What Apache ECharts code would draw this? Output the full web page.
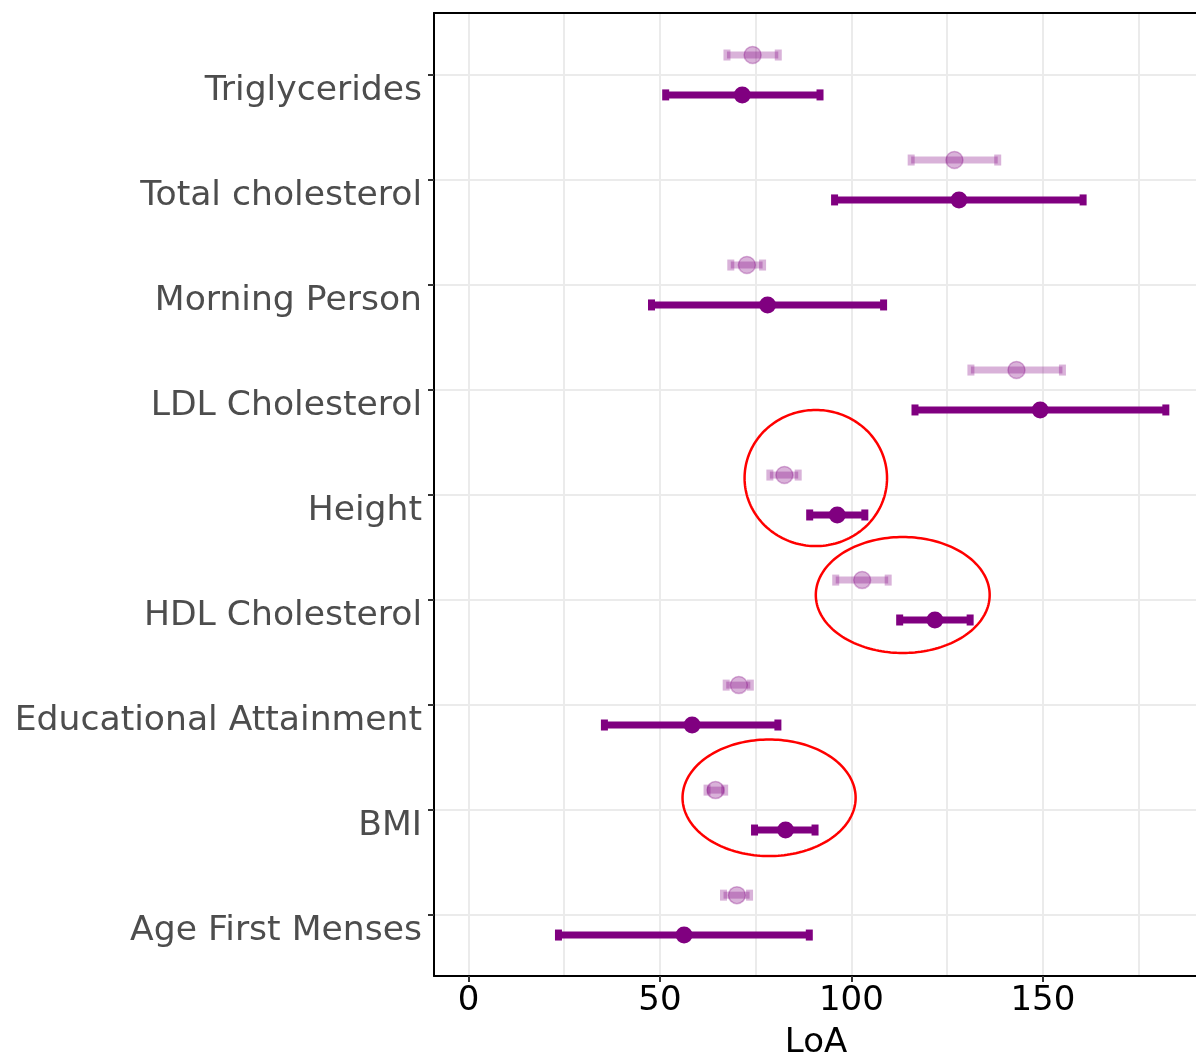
<!DOCTYPE html>
<html>
<head>
<meta charset="utf-8">
<script src="https://cdn.jsdelivr.net/npm/echarts@6/dist/echarts.min.js"></script>
<style>
  html, body { margin: 0; padding: 0; background: #ffffff; }
  #chart { width: 1196px; height: 1057px; }
</style>
</head>
<body>
<div id="chart"></div>
<script>
// Traits, listed from the top row to the bottom row
const traits = ['Triglycerides', 'Total cholesterol', 'Morning Person', 'LDL Cholesterol',
                'Height', 'HDL Cholesterol', 'Educational Attainment', 'BMI', 'Age First Menses'];

// Faint estimates (upper row of each pair)
const faintEst  = [74.2, 126.9, 72.7, 143.1, 82.5, 102.8, 70.6, 64.5, 70.1];
const faintLow  = [67.5, 115.6, 68.5, 131.2, 78.7,  95.9, 67.3, 62.3, 66.6];
const faintHigh = [80.9, 138.2, 76.8, 155.1, 86.1, 109.6, 73.6, 66.9, 73.4];

// Bold estimates (lower row of each pair)
const boldEst  = [71.5, 128.1,  78.1, 149.3,  96.3, 121.8, 58.4, 82.8, 56.3];
const boldLow  = [51.5,  95.6,  47.8, 116.6,  89.1, 112.6, 35.5, 74.7, 23.5];
const boldHigh = [91.8, 160.5, 108.4, 182.1, 103.5, 131.0, 80.8, 90.5, 89.0];

// X axis tick labels and vertical grid lines
const xTicks = [0, 50, 100, 150];
const xGrid = [0, 25, 50, 75, 100, 125, 150, 175];

// Circled traits: centre on the LoA scale, vertical shift and radii (LoA units / rows)
const circledTraits = ['Height', 'HDL Cholesterol', 'BMI'];
const circledCentre = [90.7, 113.4, 78.5];
const circledShift  = [0.162, 0.048, 0.117];
const circledRadX   = [18.6, 22.7, 22.6];
const circledRadY   = [0.648, 0.552, 0.555];

const PURPLE = '#800080';
const PURPLE_FAINT = 'rgba(128,0,128,0.3)';
const DODGE = 0.19;
const BAR_W = 7;
const CAP_H = 11;
const DOT = 17;
const FONT = '"DejaVu Sans", "Noto Sans", sans-serif';

const n = traits.length;
const rowOf = name => n - traits.indexOf(name);
const yValues = traits.map((t, i) => n - i);

const faintBars = traits.map((t, i) => [yValues[i] + DODGE, faintLow[i], faintHigh[i]]);
const boldBars  = traits.map((t, i) => [yValues[i] - DODGE, boldLow[i], boldHigh[i]]);
const faintPts  = traits.map((t, i) => [faintEst[i], yValues[i] + DODGE]);
const boldPts   = traits.map((t, i) => [boldEst[i], yValues[i] - DODGE]);
const rings = circledTraits.map((t, i) =>
  [circledCentre[i], rowOf(t) + circledShift[i], circledRadX[i], circledRadY[i]]);

// Horizontal interval with end caps
function errorBar(color) {
  return function (params, api) {
    const y = api.value(0);
    const a = api.coord([api.value(1), y]);
    const b = api.coord([api.value(2), y]);
    const st = () => ({ stroke: color, lineWidth: BAR_W, fill: null });
    return {
      type: 'group',
      children: [
        { type: 'line', shape: { x1: a[0], y1: a[1], x2: b[0], y2: b[1] }, style: st() },
        { type: 'line', shape: { x1: a[0], y1: a[1] - CAP_H / 2, x2: a[0], y2: a[1] + CAP_H / 2 }, style: st() },
        { type: 'line', shape: { x1: b[0], y1: b[1] - CAP_H / 2, x2: b[0], y2: b[1] + CAP_H / 2 }, style: st() }
      ]
    };
  };
}

// Red outline around a highlighted pair
function ring(params, api) {
  const c = api.coord([api.value(0), api.value(1)]);
  const s = api.size([api.value(2), api.value(3)]);
  const pts = [];
  for (let k = 0; k < 180; k++) {
    const t = k / 180 * Math.PI * 2;
    pts.push([c[0] + s[0] * Math.cos(t), c[1] + s[1] * Math.sin(t)]);
  }
  return { type: 'polygon', shape: { points: pts }, style: { fill: null, stroke: '#ff0000', lineWidth: 2.5 } };
}

const chart = echarts.init(document.getElementById('chart'), null, { renderer: 'canvas' });
chart.setOption({
  animation: false,
  backgroundColor: '#ffffff',
  grid: { left: 434, right: -2, top: 13, bottom: 81, containLabel: false, outerBoundsMode: 'none' },
  xAxis: [
    {
      type: 'value', position: 'bottom', min: -9, max: 190.5,
      name: 'LoA', nameLocation: 'middle', nameGap: 50,
      nameTextStyle: { fontFamily: FONT, fontSize: 34, color: '#000000' },
      axisLine: { show: true, onZero: false, lineStyle: { color: '#000000', width: 2 } },
      axisTick: { show: true, length: 6, customValues: xTicks, lineStyle: { color: '#333333', width: 2 } },
      axisLabel: { show: true, customValues: xTicks, margin: 8, fontFamily: FONT, fontSize: 34, color: '#000000' },
      splitLine: { show: false }
    },
    {
      type: 'value', position: 'top', min: -9, max: 190.5,
      axisLine: { show: true, onZero: false, lineStyle: { color: '#000000', width: 2 } },
      axisTick: { show: false, customValues: xGrid },
      axisLabel: { show: false },
      splitLine: { show: true, lineStyle: { color: '#ebebeb', width: 2 } }
    }
  ],
  yAxis: {
    type: 'value', min: 0.42, max: 9.59,
    axisLine: { show: true, onZero: false, lineStyle: { color: '#000000', width: 2 } },
    axisTick: { show: true, length: 6, customValues: yValues, lineStyle: { color: '#333333', width: 2 } },
    axisLabel: {
      show: true, customValues: yValues, margin: 12,
      fontFamily: FONT, fontSize: 34.6, color: '#4d4d4d',
      verticalAlign: 'top', lineHeight: 32,
      formatter: v => traits[n - Math.round(v)]
    },
    splitLine: { show: true, lineStyle: { color: '#ebebeb', width: 2 } }
  },
  series: [
    { type: 'custom', name: 'faint interval', renderItem: errorBar(PURPLE_FAINT), data: faintBars,
      encode: { x: [1, 2], y: 0 }, silent: true, z: 2 },
    { type: 'scatter', name: 'faint estimate', data: faintPts, symbol: 'circle', symbolSize: DOT,
      itemStyle: { color: PURPLE_FAINT, borderColor: PURPLE_FAINT, borderWidth: 1.5, opacity: 1 },
      silent: true, z: 3 },
    { type: 'custom', name: 'bold interval', renderItem: errorBar(PURPLE), data: boldBars,
      encode: { x: [1, 2], y: 0 }, silent: true, z: 4 },
    { type: 'scatter', name: 'bold estimate', data: boldPts, symbol: 'circle', symbolSize: DOT,
      itemStyle: { color: PURPLE, opacity: 1 }, silent: true, z: 5 },
    { type: 'custom', name: 'circled', renderItem: ring, data: rings,
      encode: { x: 0, y: 1 }, silent: true, clip: false, z: 6 }
  ]
});
</script>
</body>
</html>
